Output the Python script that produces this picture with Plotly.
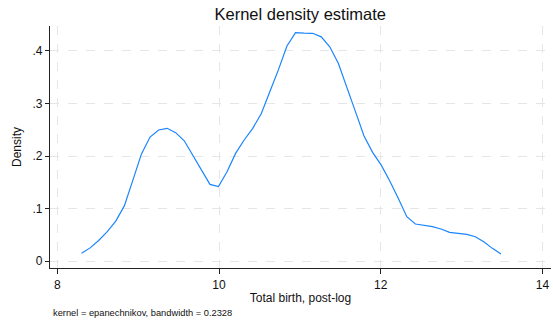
import plotly.graph_objects as go

x_vals = [8.300, 8.406, 8.512, 8.618, 8.723, 8.829, 8.935, 9.041, 9.147, 9.253,
          9.358, 9.464, 9.570, 9.676, 9.782, 9.888, 9.993, 10.099, 10.205, 10.311,
          10.417, 10.523, 10.628, 10.734, 10.840, 10.946, 11.052, 11.158, 11.264, 11.369,
          11.475, 11.581, 11.687, 11.793, 11.899, 12.004, 12.110, 12.216, 12.322, 12.428,
          12.534, 12.639, 12.745, 12.851, 12.957, 13.063, 13.169, 13.274, 13.380, 13.486]
density = [0.0147, 0.025, 0.039, 0.056, 0.076, 0.105, 0.154, 0.204, 0.236, 0.2495,
           0.2527, 0.2445, 0.229, 0.202, 0.173, 0.146, 0.1416, 0.170, 0.205, 0.2305,
           0.2527, 0.281, 0.3225, 0.364, 0.4095, 0.435, 0.434, 0.4337, 0.427, 0.408,
           0.3765, 0.332, 0.2845, 0.238, 0.207, 0.183, 0.153, 0.1194, 0.0844, 0.0705,
           0.0686, 0.0654, 0.061, 0.0546, 0.0527, 0.0508, 0.0463, 0.0368, 0.0241, 0.0133]

x_ticks = [8, 10, 12, 14]
x_tick_labels = ["8", "10", "12", "14"]
y_ticks = [0, 0.1, 0.2, 0.3, 0.4]
y_tick_labels = ["0", ".1", ".2", ".3", ".4"]

FONT = "Liberation Sans, Arial, Helvetica, sans-serif"

fig = go.Figure()
fig.add_trace(go.Scatter(x=x_vals, y=density, mode="lines",
                         line=dict(color="#1a85ff", width=1.2),
                         hoverinfo="x+y", showlegend=False))

fig.update_layout(
    width=553, height=323,
    margin=dict(l=50, r=2, t=26, b=55),
    paper_bgcolor="white", plot_bgcolor="white",
    font=dict(family=FONT, size=12, color="#111111"),
    title=dict(text="Kernel density estimate", x=0.543, xanchor="center",
               y=0.957, yanchor="middle", font=dict(size=16.5, color="#111111")),
    xaxis=dict(range=[7.910, 14.105], tickvals=x_ticks, ticktext=x_tick_labels,
               showline=True, linecolor="#222222", linewidth=1.2,
               ticks="outside", ticklen=5, tickcolor="#222222",
               showgrid=True, gridcolor="#e6e6e6", griddash="dash", gridwidth=1,
               zeroline=False, tickfont=dict(size=12),
               title=dict(text="Total birth, post-log", font=dict(size=12), standoff=3)),
    yaxis=dict(range=[-0.0133, 0.4476], tickvals=y_ticks, ticktext=y_tick_labels,
               showline=True, linecolor="#222222", linewidth=1.2,
               ticks="outside", ticklen=4, tickcolor="#222222",
               showgrid=True, gridcolor="#e6e6e6", griddash="dash", gridwidth=1,
               zeroline=False, tickfont=dict(size=12),
               title=dict(text="Density", font=dict(size=12), standoff=8)),
    annotations=[dict(text="kernel = epanechnikov, bandwidth = 0.2328",
                      xref="paper", yref="paper", x=0, y=-0.186,
                      xanchor="left", yanchor="middle",
                      xshift=1, showarrow=False, font=dict(size=9.3, color="#111111"))],
)

fig.write_html("out.html")
